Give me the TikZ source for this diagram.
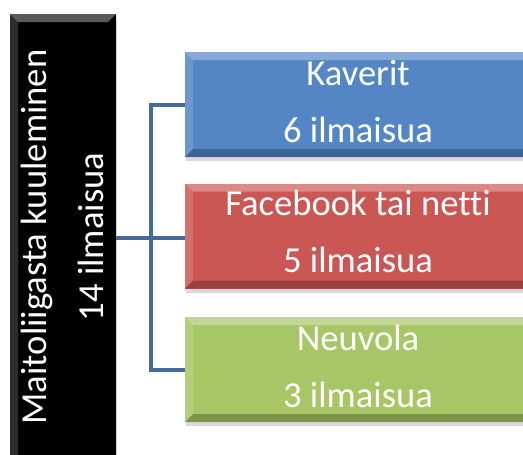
\documentclass[tikz,border=0pt]{standalone}
\usepackage{fontspec}
\setmainfont[Ligatures=NoCommon]{Carlito}
\usetikzlibrary{shadows}
\definecolor{kavblue}{HTML}{5486C6}
\definecolor{fbred}{HTML}{CB5755}
\definecolor{neugreen}{HTML}{A7C665}
\definecolor{linkblue}{HTML}{44699D}
\tikzset{
  bevel/.style={path picture={
    \fill[white,opacity=#1] (path picture bounding box.north west) -- (path picture bounding box.north east)
      -- ([xshift=-8pt,yshift=-8pt]path picture bounding box.north east) -- ([xshift=8pt,yshift=-8pt]path picture bounding box.north west) -- cycle;
    \fill[white,opacity=#1/2] (path picture bounding box.north west) -- (path picture bounding box.south west)
      -- ([xshift=8pt,yshift=8pt]path picture bounding box.south west) -- ([xshift=8pt,yshift=-8pt]path picture bounding box.north west) -- cycle;
    \fill[black,opacity=.25] (path picture bounding box.south west) -- (path picture bounding box.south east)
      -- ([xshift=-8pt,yshift=8pt]path picture bounding box.south east) -- ([xshift=8pt,yshift=8pt]path picture bounding box.south west) -- cycle;
    \fill[black,opacity=.12] (path picture bounding box.north east) -- (path picture bounding box.south east)
      -- ([xshift=-8pt,yshift=8pt]path picture bounding box.south east) -- ([xshift=-8pt,yshift=-8pt]path picture bounding box.north east) -- cycle;
  }},
}
\begin{document}
\begin{tikzpicture}[x=1pt,y=-1pt]
    \tikzstyle{box}=[inner sep=0pt, minimum width=346pt, minimum height=105pt, bevel=.3,
        drop shadow={shadow xshift=1pt, shadow yshift=-4pt, opacity=.3}]
    \tikzstyle{txt}=[text=white, align=center, inner sep=0pt, anchor=base,
        font=\fontsize{36.6}{57}\selectfont]
    \tikzstyle{link}=[draw=linkblue, line width=4pt]

    \useasboundingbox (0,0) rectangle (523,455);

    \node[box, fill=black, minimum width=106pt, minimum height=456pt, bevel=.35] (top) at (63,242) {};
    \node[box, fill=kavblue]  (kav) at (358,104.5) {};
    \node[box, fill=fbred]    (fb)  at (358,236) {};
    \node[box, fill=neugreen] (neu) at (358,369.5) {};

    \node[txt, rotate=90] (toptxt) at (103,237) {Maitoliigasta kuuleminen\\14 ilmaisua};
    \node[txt] (kavtxt) at (358,142) {Kaverit\\6 ilmaisua};
    \node[txt] (fbtxt)  at (358,272) {Facebook tai netti\\5 ilmaisua};
    \node[txt] (neutxt) at (358,407) {Neuvola\\3 ilmaisua};

    \coordinate (fork) at (151,238);
    \draw[link] (top.east |- fork) -- (fork);
    \draw[link] (kav.west) -| (fork) |- (neu.west);
    \draw[link] (fork) -- (fork -| fb.west);
\end{tikzpicture}
\end{document}
